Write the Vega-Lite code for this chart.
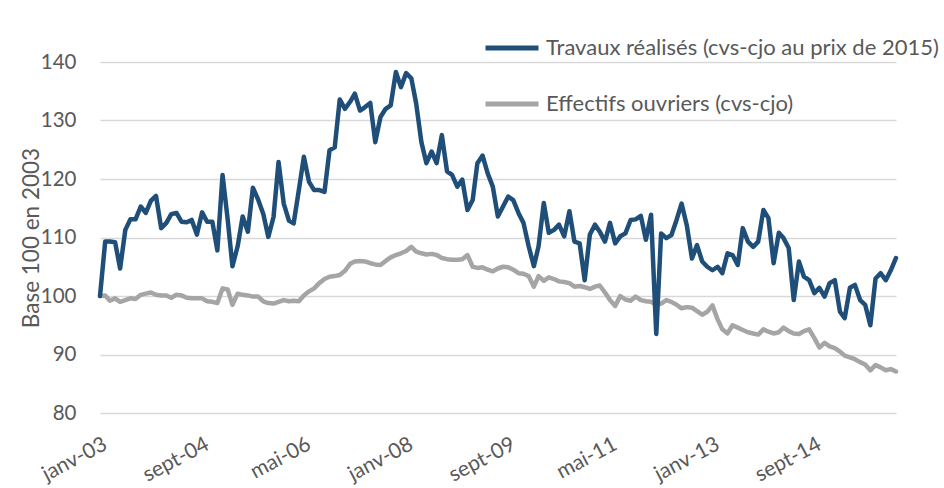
{
  "$schema": "https://vega.github.io/schema/vega-lite/v6.json",
  "autosize": {"type": "none"},
  "width": 796,
  "height": 351,
  "padding": {"left": 100, "top": 62, "right": 48, "bottom": 75},
  "background": "white",
  "config": {
    "view": {"stroke": null},
    "font": "Lato",
    "axis": {"labelFont": "Lato", "titleFont": "Lato", "labelColor": "#595959", "titleColor": "#595959"},
    "legend": {"labelFont": "Lato"}
  },
  "data": {"values": [
    {"d":"2003-01","t":100,"e":100},{"d":"2003-02","t":109.3,"e":100.1},{"d":"2003-03","t":109.3,"e":99.2},{"d":"2003-04","t":109.2,"e":99.6},{"d":"2003-05","t":104.7,"e":99},{"d":"2003-06","t":111.3,"e":99.3},{"d":"2003-07","t":113.1,"e":99.6},{"d":"2003-08","t":113.1,"e":99.5},{"d":"2003-09","t":115.3,"e":100.2},{"d":"2003-10","t":114.2,"e":100.4},{"d":"2003-11","t":116.3,"e":100.6},{"d":"2003-12","t":117.1,"e":100.2},
    {"d":"2004-01","t":111.6,"e":100.1},{"d":"2004-02","t":112.5,"e":100.1},{"d":"2004-03","t":114,"e":99.7},{"d":"2004-04","t":114.2,"e":100.2},{"d":"2004-05","t":112.7,"e":100.1},{"d":"2004-06","t":112.6,"e":99.7},{"d":"2004-07","t":113,"e":99.6},{"d":"2004-08","t":110.5,"e":99.6},{"d":"2004-09","t":114.3,"e":99.6},{"d":"2004-10","t":112.7,"e":99.1},{"d":"2004-11","t":112.7,"e":99},{"d":"2004-12","t":107.8,"e":98.8},
    {"d":"2005-01","t":120.7,"e":101.3},{"d":"2005-02","t":113,"e":101.1},{"d":"2005-03","t":105.1,"e":98.5},{"d":"2005-04","t":108.5,"e":100.4},{"d":"2005-05","t":113.6,"e":100.2},{"d":"2005-06","t":111,"e":100.1},{"d":"2005-07","t":118.5,"e":99.9},{"d":"2005-08","t":116.5,"e":99.9},{"d":"2005-09","t":114,"e":99.1},{"d":"2005-10","t":110.1,"e":98.8},{"d":"2005-11","t":113.5,"e":98.7},{"d":"2005-12","t":122.9,"e":99},
    {"d":"2006-01","t":115.8,"e":99.3},{"d":"2006-02","t":112.9,"e":99.1},{"d":"2006-03","t":112.4,"e":99.2},{"d":"2006-04","t":118.1,"e":99.1},{"d":"2006-05","t":123.8,"e":100.1},{"d":"2006-06","t":119.5,"e":100.8},{"d":"2006-07","t":118.1,"e":101.3},{"d":"2006-08","t":118.1,"e":102.2},{"d":"2006-09","t":117.8,"e":102.9},{"d":"2006-10","t":124.9,"e":103.3},{"d":"2006-11","t":125.4,"e":103.4},{"d":"2006-12","t":133.6,"e":103.6},
    {"d":"2007-01","t":132,"e":104.3},{"d":"2007-02","t":133.2,"e":105.5},{"d":"2007-03","t":134.6,"e":105.9},{"d":"2007-04","t":131.7,"e":106},{"d":"2007-05","t":132.3,"e":105.9},{"d":"2007-06","t":133,"e":105.6},{"d":"2007-07","t":126.3,"e":105.4},{"d":"2007-08","t":130.6,"e":105.3},{"d":"2007-09","t":132,"e":106},{"d":"2007-10","t":132.6,"e":106.6},{"d":"2007-11","t":138.3,"e":107},{"d":"2007-12","t":135.7,"e":107.3},
    {"d":"2008-01","t":138.1,"e":107.7},{"d":"2008-02","t":137.2,"e":108.4},{"d":"2008-03","t":132.9,"e":107.6},{"d":"2008-04","t":126.3,"e":107.3},{"d":"2008-05","t":122.7,"e":107.1},{"d":"2008-06","t":124.7,"e":107.2},{"d":"2008-07","t":122.7,"e":107},{"d":"2008-08","t":127.5,"e":106.5},{"d":"2008-09","t":121.3,"e":106.3},{"d":"2008-10","t":120.7,"e":106.2},{"d":"2008-11","t":118.7,"e":106.2},{"d":"2008-12","t":119.9,"e":106.3},
    {"d":"2009-01","t":114.7,"e":107},{"d":"2009-02","t":116.4,"e":105},{"d":"2009-03","t":122.7,"e":104.8},{"d":"2009-04","t":124,"e":104.9},{"d":"2009-05","t":121,"e":104.5},{"d":"2009-06","t":118.7,"e":104.2},{"d":"2009-07","t":113.6,"e":104.7},{"d":"2009-08","t":115.3,"e":105},{"d":"2009-09","t":117,"e":104.9},{"d":"2009-10","t":116.4,"e":104.5},{"d":"2009-11","t":114.2,"e":103.9},{"d":"2009-12","t":112.5,"e":103.8},
    {"d":"2010-01","t":108.5,"e":103.4},{"d":"2010-02","t":105.1,"e":101.6},{"d":"2010-03","t":108.5,"e":103.4},{"d":"2010-04","t":115.9,"e":102.6},{"d":"2010-05","t":110.8,"e":103.2},{"d":"2010-06","t":111.3,"e":102.9},{"d":"2010-07","t":112.2,"e":102.5},{"d":"2010-08","t":110.2,"e":102.4},{"d":"2010-09","t":114.5,"e":102.2},{"d":"2010-10","t":109.3,"e":101.6},{"d":"2010-11","t":109,"e":101.7},{"d":"2010-12","t":102.7,"e":101.5},
    {"d":"2011-01","t":110.5,"e":101.2},{"d":"2011-02","t":112.2,"e":101.6},{"d":"2011-03","t":111,"e":101.8},{"d":"2011-04","t":109.3,"e":100.6},{"d":"2011-05","t":112.5,"e":99.3},{"d":"2011-06","t":109,"e":98.3},{"d":"2011-07","t":110.2,"e":100},{"d":"2011-08","t":110.7,"e":99.4},{"d":"2011-09","t":113,"e":99.2},{"d":"2011-10","t":113.1,"e":99.9},{"d":"2011-11","t":113.7,"e":99.3},{"d":"2011-12","t":109.6,"e":99.1},
    {"d":"2012-01","t":113.9,"e":99},{"d":"2012-02","t":93.5,"e":98.5},{"d":"2012-03","t":110.7,"e":98.7},{"d":"2012-04","t":109.9,"e":99.3},{"d":"2012-05","t":110.4,"e":99},{"d":"2012-06","t":113,"e":98.5},{"d":"2012-07","t":115.8,"e":97.9},{"d":"2012-08","t":112.1,"e":98.1},{"d":"2012-09","t":106.4,"e":98},{"d":"2012-10","t":108.7,"e":97.4},{"d":"2012-11","t":105.9,"e":96.8},{"d":"2012-12","t":105,"e":97.3},
    {"d":"2013-01","t":104.4,"e":98.4},{"d":"2013-02","t":105,"e":96},{"d":"2013-03","t":103.9,"e":94.3},{"d":"2013-04","t":107.3,"e":93.6},{"d":"2013-05","t":107,"e":95},{"d":"2013-06","t":105.3,"e":94.6},{"d":"2013-07","t":111.6,"e":94.2},{"d":"2013-08","t":109.3,"e":93.8},{"d":"2013-09","t":108.4,"e":93.6},{"d":"2013-10","t":109.3,"e":93.4},{"d":"2013-11","t":114.7,"e":94.3},{"d":"2013-12","t":113.3,"e":93.9},
    {"d":"2014-01","t":105.6,"e":93.6},{"d":"2014-02","t":110.8,"e":93.8},{"d":"2014-03","t":109.9,"e":94.6},{"d":"2014-04","t":108.2,"e":94},{"d":"2014-05","t":99.3,"e":93.6},{"d":"2014-06","t":105.9,"e":93.5},{"d":"2014-07","t":103.3,"e":94},{"d":"2014-08","t":102.7,"e":94.3},{"d":"2014-09","t":100.5,"e":92.8},{"d":"2014-10","t":101.4,"e":91.2},{"d":"2014-11","t":99.9,"e":92},{"d":"2014-12","t":102.2,"e":91.4},
    {"d":"2015-01","t":102.7,"e":91.1},{"d":"2015-02","t":97.3,"e":90.5},{"d":"2015-03","t":96.2,"e":89.8},{"d":"2015-04","t":101.4,"e":89.5},{"d":"2015-05","t":101.9,"e":89.2},{"d":"2015-06","t":99.3,"e":88.7},{"d":"2015-07","t":98.5,"e":88.3},{"d":"2015-08","t":95,"e":87.3},{"d":"2015-09","t":103,"e":88.2},{"d":"2015-10","t":103.9,"e":87.8},{"d":"2015-11","t":102.7,"e":87.3},{"d":"2015-12","t":104.4,"e":87.5},
    {"d":"2016-01","t":106.5,"e":87.1}
  ]},
  "encoding": {
    "x": {
      "field": "d", "type": "temporal",
      "scale": {"type": "utc"},
      "axis": {
        "title": null,
        "values": [
          {"year": 2003, "month": 1, "date": 1, "utc": true},
          {"year": 2004, "month": 9, "date": 1, "utc": true},
          {"year": 2006, "month": 5, "date": 1, "utc": true},
          {"year": 2008, "month": 1, "date": 1, "utc": true},
          {"year": 2009, "month": 9, "date": 1, "utc": true},
          {"year": 2011, "month": 5, "date": 1, "utc": true},
          {"year": 2013, "month": 1, "date": 1, "utc": true},
          {"year": 2014, "month": 9, "date": 1, "utc": true}
        ],
        "labelExpr": "['janv','févr','mars','avr','mai','juin','juil','août','sept','oct','nov','déc'][utcmonth(datum.value)] + '-' + utcFormat(datum.value, '%y')",
        "labelAngle": -28,
        "labelAlign": "right",
        "labelBaseline": "top",
        "labelFontSize": 21,
        "labelPadding": 20,
        "labelOverlap": false,
        "labelBound": false,
        "labelFlush": false,
        "grid": false,
        "ticks": false,
        "domain": false
      }
    }
  },
  "layer": [
    {
      "mark": {"type": "line", "strokeWidth": 4.5, "strokeJoin": "round", "strokeCap": "round"},
      "encoding": {
        "y": {
          "field": "e", "type": "quantitative",
          "scale": {"domain": [80, 140], "nice": false, "zero": false},
          "axis": {
            "title": "Base 100 en 2003",
            "titleFontSize": 22.5,
            "titleFontWeight": "normal",
            "titleAngle": 270,
            "titleX": -69,
            "titleY": 175.5,
            "titleAlign": "center",
            "titleBaseline": "middle",
            "values": [80, 90, 100, 110, 120, 130, 140],
            "labelFontSize": 20.5,
            "labelPadding": 24,
            "ticks": false,
            "domain": false,
            "grid": true,
            "gridColor": "#D9D9D9",
            "gridWidth": 1.5
          }
        },
        "color": {
          "datum": "Effectifs ouvriers (cvs-cjo)",
          "scale": {
            "domain": ["Travaux réalisés (cvs-cjo au prix de 2015)", "Effectifs ouvriers (cvs-cjo)"],
            "range": ["#1F4E79", "#A5A5A5"]
          },
          "legend": {
            "title": null,
            "orient": "none",
            "legendX": 383,
            "legendY": -43,
            "symbolType": "stroke",
            "symbolSize": 2809,
            "symbolStrokeWidth": 5,
            "labelFontSize": 22,
            "labelColor": "#595959",
            "labelOffset": 5,
            "labelLimit": 500,
            "rowPadding": 16,
            "padding": 0
          }
        }
      }
    },
    {
      "mark": {"type": "line", "strokeWidth": 4.5, "strokeJoin": "round", "strokeCap": "round"},
      "encoding": {
        "y": {"field": "t", "type": "quantitative"},
        "color": {"datum": "Travaux réalisés (cvs-cjo au prix de 2015)"}
      }
    }
  ]
}
